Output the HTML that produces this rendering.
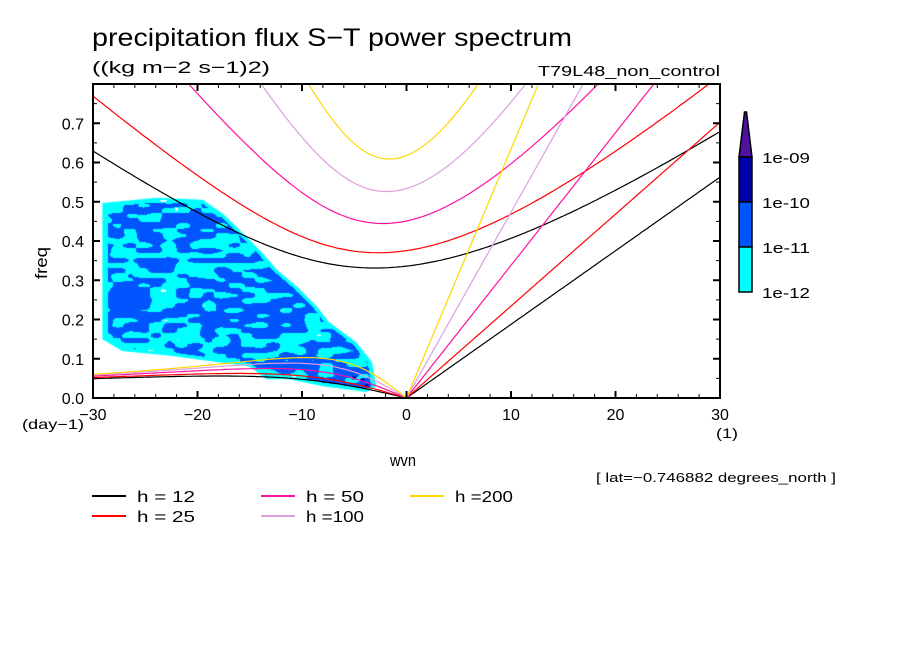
<!DOCTYPE html>
<html><head><meta charset="utf-8"><style>
body{margin:0;background:#fff;width:904px;height:654px;overflow:hidden;position:relative;font-family:"Liberation Sans",sans-serif;}
svg{position:absolute;left:0;top:0}
canvas{position:absolute;left:0;top:0}
</style></head><body>
<canvas id="cv" width="904" height="654"></canvas>
<svg id="sv" width="904" height="654" font-family="Liberation Sans, sans-serif"></svg>
<script>
// ---- data ----
const legendLabels = ["h = 12","h = 25","h = 50","h =100","h =200"];
const equivDepth = [7.7, 12, 25, 49, 88];
const lineColors = ["#000000","#ff0000","#ff10a0","#dda0dd","#ffd700"];
const xTicks = [-30,-20,-10,0,10,20,30];
const yTicks = [0,0.1,0.2,0.3,0.4,0.5,0.6,0.7];
const yTickLabels = ["0.0","0.1","0.2","0.3","0.4","0.5","0.6","0.7"];
const colorLevels = ["1e-09","1e-10","1e-11","1e-12"];
const levelColors = ["#5010a0","#0000a8","#0055ff","#00ffff"];
const envWvn = [-29.1,-23.9,-19.5,-17.6,-16.3,-13.8,-12.4,-10.5,-8.6,-7.4,-4.8,-3.3,-2.9,-3.8,-8,-11.2,-13.4,-15,-22.4,-27.2,-29.1];
const envFreq = [0.497,0.51,0.505,0.47,0.437,0.37,0.327,0.284,0.234,0.193,0.142,0.091,0.03,0.015,0.03,0.048,0.048,0.08,0.107,0.12,0.15];

const X0=93,X1=720,Y0=398,Y1=84;
const sx=w=>X0+(w+30)/60*(X1-X0);
const sy=f=>Y0-f/0.8*(Y0-Y1);
const NS="http://www.w3.org/2000/svg";
const sv=document.getElementById('sv');
function mk(t,a,p){const e=document.createElementNS(NS,t);for(const k in a)e.setAttribute(k,a[k]);(p||sv).appendChild(e);return e;}

// ---- shading ----
const cv=document.getElementById('cv'),cx=cv.getContext('2d');
const poly=envWvn.map((w,i)=>[sx(w),sy(envFreq[i])]);
function inside(x,y){let c=false;for(let i=0,j=poly.length-1;i<poly.length;j=i++){const[xi,yi]=poly[i],[xj,yj]=poly[j];if(((yi>y)!=(yj>y))&&(x<(xj-xi)*(y-yi)/(yj-yi)+xi))c=!c;}return c;}
function h2(i,j){let n=i*374761393+j*668265263;n=(n^(n>>>13))*1274126177;n=n^(n>>>16);return ((n>>>0)%1000)/1000;}
function noise(x,y){const gx=x/13,gy=y/5;const i=Math.floor(gx),j=Math.floor(gy),fx=gx-i,fy=gy-j;
 const s=t=>t*t*(3-2*t);const a=h2(i,j),b=h2(i+1,j),c=h2(i,j+1),d=h2(i+1,j+1);
 const u=s(fx),v=s(fy);return a*(1-u)*(1-v)+b*u*(1-v)+c*(1-u)*v+d*u*v;}
cx.beginPath();poly.forEach((p,i)=>i?cx.lineTo(p[0],p[1]):cx.moveTo(p[0],p[1]));cx.closePath();
cx.fillStyle=levelColors[3];cx.fill();
cx.fillStyle=levelColors[2];
for(let y=Y1;y<Y0;y+=1)for(let x=X0;x<X1;x+=1){
 if(!inside(x,y))continue;
 if(!(inside(x-5,y)&&inside(x+5,y)&&inside(x,y-4)&&inside(x,y+4)))continue;
 const n=noise(x,y);
 if(n>0.47)cx.fillRect(x,y,1,1);
}
cx.fillStyle="#ffffff";
for(let y=Y1;y<Y0;y+=1)for(let x=X0;x<X1;x+=1){
 if(inside(x,y)&&noise(x+500,y+300)>0.93&&noise(x,y)<0.3)cx.fillRect(x,y,1,1);
}
cx.fillStyle=levelColors[1];
[[-3.8,0.03],[-5,0.05],[-4.2,0.045]].forEach(p=>cx.fillRect(sx(p[0])-2,sy(p[1])-2,4,3));

// ---- dispersion curves ----
const g=9.81,beta=2.29e-11,R=6.371e6,toCpd=86400/(2*Math.PI);
const clip=mk('clipPath',{id:'cp'});mk('rect',{x:X0,y:Y1,width:X1-X0,height:Y0-Y1},clip);
const curves=mk('g',{'clip-path':'url(#cp)'});


equivDepth.forEach((h,idx)=>{
 const c=Math.sqrt(g*h);
 const kel=[],ig=[],ros=[];
 for(let s=-30;s<=30.001;s+=0.25){
  const k=s/R;
  if(s>=0)kel.push([sx(s),sy(c*k*toCpd)]);
  let w=Math.sqrt(c*c*k*k+3*beta*c);
  for(let it=0;it<30;it++){const f=w*w*w-(c*c*k*k+3*beta*c)*w-beta*c*c*k;const d=3*w*w-(c*c*k*k+3*beta*c);w-=f/d;}
  ig.push([sx(s),sy(w*toCpd)]);
  if(s<=0)ros.push([sx(s),sy(-beta*k/(k*k+3*beta/c)*toCpd)]);
 }
 const col=lineColors[idx];
 const names=['kelvin','inertia-gravity','rossby'];
 [kel,ig,ros].forEach((pts,n)=>{
  const p=mk('polyline',{points:pts.map(q=>q[0].toFixed(1)+','+q[1].toFixed(1)).join(' '),fill:'none',stroke:col,'stroke-width':1.2},curves);
  
  
 });
});

// ---- frame & ticks ----
const fr=mk('rect',{x:X0,y:Y1,width:X1-X0,height:Y0-Y1,fill:'none',stroke:'#000','stroke-width':2});

for(let w=-30;w<=30;w+=2){const maj=w%10===0;const L=maj?7:4;
 mk('line',{x1:sx(w),x2:sx(w),y1:Y0,y2:Y0-L,stroke:'#000','stroke-width':maj?2:1});
 mk('line',{x1:sx(w),x2:sx(w),y1:Y1,y2:Y1+L,stroke:'#000','stroke-width':maj?2:1});}
for(let i=0;i<=16;i++){const f=i*0.05;const maj=i%2===0;const L=maj?7:4;
 mk('line',{x1:X0,x2:X0+L,y1:sy(f),y2:sy(f),stroke:'#000','stroke-width':maj?2:1});
 mk('line',{x1:X1,x2:X1-L,y1:sy(f),y2:sy(f),stroke:'#000','stroke-width':maj?2:1});}
xTicks.forEach(w=>{const t=mk('text',{x:sx(w),y:Y0+22,'font-size':16,'text-anchor':'middle'});t.textContent=(w<0?'\u2212'+(-w):w);
 });
yTicks.forEach((f,i)=>{const t=mk('text',{x:X0-9,y:sy(f)+6,'font-size':16,'text-anchor':'end'});t.textContent=yTickLabels[i];
 });
function txt(x,y,s,fs,name,extra,len){const a=Object.assign({x:x,y:y,'font-size':fs},extra||{});if(len){a.textLength=len;a.lengthAdjust='spacingAndGlyphs';}
 const t=mk('text',a);t.textContent=s;return t;}
txt(92,46,'precipitation flux S\u2212T power spectrum',25,'chart-title',null,480);
txt(92,73,'((kg m\u22122 s\u22121)2)',17,'units-label',null,178);
txt(538,76,'T79L48_non_control',15,'run-label',null,182);
txt(22,429,'(day\u22121)',14,'y-unit',null,62);
txt(716,438,'(1)',14,'x-unit',null,22);
txt(390,466,'wvn',17,'x-axis-title',null,26);
txt(47,263,'freq',17,'y-axis-title',{transform:'rotate(-90 47 263)','text-anchor':'middle'},32);
txt(596,482,'[ lat=\u22120.746882 degrees_north ]',13,'latitude-note',null,240);

// ---- colorbar ----
const cbx=739,cbw=13,cbTop=157,seg=45;
const tri=mk('polygon',{points:`${cbx},${cbTop} ${cbx+cbw},${cbTop} ${cbx+cbw/2+1},112 ${cbx+cbw/2-1},112`,fill:levelColors[0],stroke:'#000','stroke-width':1.5});

for(let i=0;i<3;i++){const r=mk('rect',{x:cbx,y:cbTop+i*seg,width:cbw,height:seg,fill:levelColors[i+1],stroke:'#000','stroke-width':1.5});
 }
colorLevels.forEach((s,i)=>txt(762,cbTop+i*seg+6,s,15,'colorbar-label',null,48));

// ---- legend ----
const lx=[92,261,410],ly=[496,516];
legendLabels.forEach((s,i)=>{const col=Math.floor(i/2),row=i%2;
 const l=mk('line',{x1:lx[col],x2:lx[col]+34,y1:ly[row],y2:ly[row],stroke:lineColors[i],'stroke-width':2});
 
 txt(lx[col]+45,ly[row]+6,s,16,'legend-entry',null,58);});
</script>
</body></html>
